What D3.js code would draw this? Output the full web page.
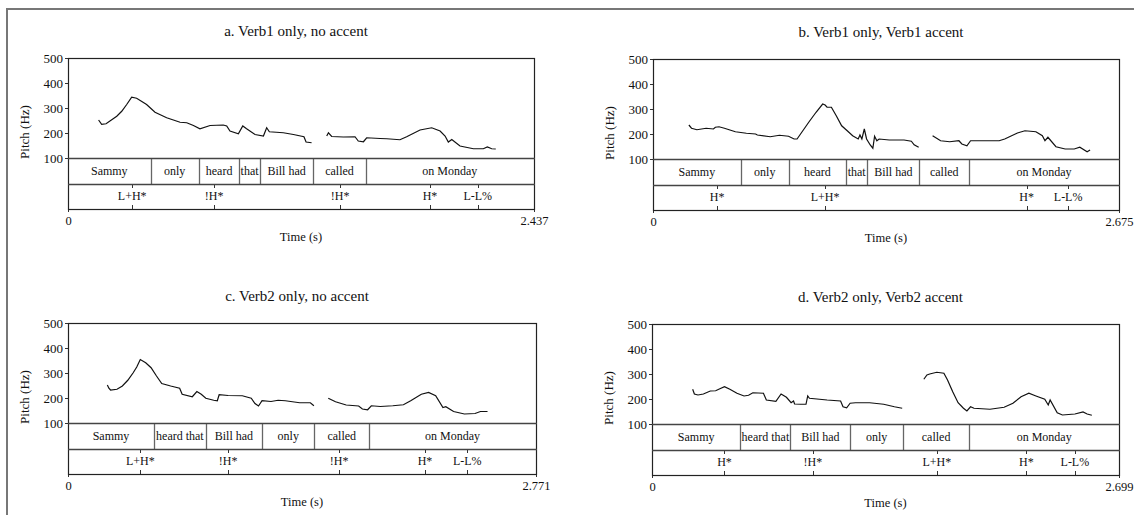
<!DOCTYPE html>
<html>
<head>
<meta charset="utf-8">
<script src="https://cdn.jsdelivr.net/npm/d3@7"></script>
<style>
  body { margin: 0; background: #fff; }
  text { font-family: "Liberation Serif", "Times New Roman", serif; fill: #111; }
</style>
</head>
<body>
<div id="fig"></div>
<script>
// pitch axis ticks
var yTicks = [100, 200, 300, 400, 500];

// a. Verb1 only, no accent
var aTitle = "a. Verb1 only, no accent";
var aDur = 2.437;
var aWords = ["Sammy", "only", "heard", "that", "Bill had", "called", "on Monday"];
var aWordEnds = [0.432, 0.684, 0.896, 1.003, 1.283, 1.557, 2.437];
var aTones = ["L+H*", "!H*", "!H*", "H*", "L-L%"];
var aToneTimes = [0.336, 0.764, 1.423, 1.893, 2.143];
var aPitch1 = [[0.160,252],[0.176,235],[0.199,237],[0.255,267],[0.281,287],[0.307,314],[0.333,343],[0.359,339],[0.411,314],[0.455,283],[0.516,261],[0.586,243],[0.621,241],[0.656,230],[0.690,217],[0.743,230],[0.812,232],[0.830,228],[0.847,208],[0.891,197],[0.914,228],[0.934,217],[0.978,194],[1.022,188],[1.039,221],[1.053,205],[1.126,201],[1.179,194],[1.234,185],[1.245,164],[1.274,161]];
var aPitch2 = [[1.353,188],[1.362,201],[1.379,186],[1.440,184],[1.501,185],[1.518,168],[1.545,165],[1.562,181],[1.632,178],[1.667,177],[1.736,173],[1.771,185],[1.841,212],[1.902,221],[1.946,208],[1.972,188],[1.989,164],[2.007,174],[2.050,148],[2.120,137],[2.172,137],[2.193,144],[2.216,137],[2.237,136]];

// b. Verb1 only, Verb1 accent
var bTitle = "b. Verb1 only, Verb1 accent";
var bDur = 2.675;
var bWords = ["Sammy", "only", "heard", "that", "Bill had", "called", "on Monday"];
var bWordEnds = [0.503, 0.780, 1.108, 1.230, 1.529, 1.815, 2.675];
var bTones = ["H*", "L+H*", "H*", "L-L%"];
var bToneTimes = [0.368, 0.988, 2.145, 2.383];
var bPitch1 = [[0.206,236],[0.221,223],[0.252,217],[0.305,223],[0.347,220],[0.358,227],[0.379,229],[0.410,223],[0.473,209],[0.536,203],[0.589,200],[0.599,196],[0.673,189],[0.726,195],[0.778,191],[0.810,180],[0.827,180],[0.894,247],[0.936,287],[0.974,320],[0.988,316],[0.999,307],[1.024,307],[1.052,273],[1.083,233],[1.115,213],[1.146,193],[1.178,180],[1.188,196],[1.199,180],[1.213,220],[1.226,180],[1.247,156],[1.262,143],[1.272,191],[1.285,173],[1.298,180],[1.356,176],[1.441,176],[1.483,171],[1.499,157],[1.525,147]];
var bPitch2 = [[1.605,193],[1.651,173],[1.703,169],[1.756,173],[1.773,160],[1.802,153],[1.823,173],[1.987,173],[2.019,180],[2.092,204],[2.135,213],[2.198,209],[2.235,193],[2.250,173],[2.267,187],[2.313,149],[2.366,140],[2.418,140],[2.450,147],[2.492,129],[2.509,136]];

// c. Verb2 only, no accent
var cTitle = "c. Verb2 only, no accent";
var cDur = 2.771;
var cWords = ["Sammy", "heard that", "Bill had", "only", "called", "on Monday"];
var cWordEnds = [0.509, 0.816, 1.149, 1.459, 1.783, 2.771];
var cTones = ["L+H*", "!H*", "!H*", "H*", "L-L%"];
var cToneTimes = [0.428, 0.948, 1.605, 2.114, 2.364];
var cPitch1 = [[0.233,252],[0.242,239],[0.252,232],[0.290,235],[0.322,248],[0.354,271],[0.386,301],[0.407,324],[0.428,354],[0.460,341],[0.492,321],[0.524,288],[0.555,258],[0.608,248],[0.661,239],[0.676,215],[0.736,205],[0.763,226],[0.789,215],[0.816,199],[0.863,191],[0.884,189],[0.895,213],[0.948,210],[1.032,209],[1.085,199],[1.107,178],[1.128,168],[1.149,189],[1.202,186],[1.244,191],[1.287,189],[1.329,185],[1.372,181],[1.435,181],[1.456,169]];
var cPitch2 = [[1.541,199],[1.584,185],[1.647,172],[1.721,168],[1.743,156],[1.774,153],[1.796,169],[1.849,166],[1.923,169],[1.986,173],[2.029,189],[2.092,215],[2.135,222],[2.177,209],[2.220,162],[2.237,165],[2.283,146],[2.347,136],[2.410,138],[2.442,146],[2.484,146]];

// d. Verb2 only, Verb2 accent
var dTitle = "d. Verb2 only, Verb2 accent";
var dDur = 2.699;
var dWords = ["Sammy", "heard that", "Bill had", "only", "called", "on Monday"];
var dWordEnds = [0.511, 0.800, 1.147, 1.450, 1.834, 2.699];
var dTones = ["H*", "!H*", "L+H*", "H*", "L-L%"];
var dToneTimes = [0.419, 0.930, 1.646, 2.164, 2.444];
var dPitch1 = [[0.235,239],[0.245,220],[0.266,216],[0.297,220],[0.337,232],[0.368,233],[0.389,240],[0.419,249],[0.450,239],[0.491,223],[0.532,212],[0.558,215],[0.583,225],[0.644,223],[0.661,196],[0.716,191],[0.746,220],[0.777,207],[0.804,185],[0.818,192],[0.824,180],[0.859,179],[0.890,179],[0.900,212],[0.910,203],[1.012,196],[1.090,192],[1.104,169],[1.125,165],[1.145,183],[1.176,185],[1.258,185],[1.339,179],[1.401,169],[1.446,163]];
var dPitch2 = [[1.571,279],[1.589,296],[1.605,300],[1.646,307],[1.687,303],[1.708,276],[1.738,229],[1.769,185],[1.800,163],[1.820,152],[1.841,169],[1.861,163],[1.953,159],[2.035,167],[2.086,183],[2.133,209],[2.178,223],[2.219,212],[2.270,199],[2.290,176],[2.301,196],[2.342,145],[2.372,136],[2.444,140],[2.491,148],[2.515,140],[2.542,135]];

var width = 1134, height = 515;
var pitchH = 100, wordH = 26, toneH = 25;

var svg = d3.select("#fig").append("svg")
    .attr("width", width)
    .attr("height", height);

// outer figure frame (only top and left edges are visible)
svg.append("path")
    .attr("d", "M7," + height + "V9H" + width)
    .attr("fill", "none")
    .attr("stroke", "#777")
    .attr("stroke-width", 2);

var panels = [
  {title: aTitle, dur: aDur, words: aWords, ends: aWordEnds, tones: aTones, toneT: aToneTimes, pitch: [aPitch1, aPitch2], left: 68, right: 534, top: 58},
  {title: bTitle, dur: bDur, words: bWords, ends: bWordEnds, tones: bTones, toneT: bToneTimes, pitch: [bPitch1, bPitch2], left: 653, right: 1119, top: 59},
  {title: cTitle, dur: cDur, words: cWords, ends: cWordEnds, tones: cTones, toneT: cToneTimes, pitch: [cPitch1, cPitch2], left: 68, right: 536, top: 323},
  {title: dTitle, dur: dDur, words: dWords, ends: dWordEnds, tones: dTones, toneT: dToneTimes, pitch: [dPitch1, dPitch2], left: 652, right: 1119, top: 324}
];

panels.forEach(draw_panel);

function draw_panel(p) {
  var x = d3.scaleLinear().domain([0, p.dur]).range([p.left, p.right]);
  var y = d3.scaleLinear().domain([100, 500]).range([p.top + pitchH, p.top]);
  var wTop = p.top + pitchH,
      tTop = wTop + wordH,
      bottom = tTop + toneH;

  var g = svg.append("g");

  // title
  g.append("text")
      .attr("x", (p.left + p.right) / 2 - 5)
      .attr("y", p.top - 27)
      .attr("dy", "0.35em")
      .attr("text-anchor", "middle")
      .style("font-size", "15px")
      .text(p.title);

  // y axis
  var yAxis = g.append("g")
      .attr("transform", "translate(" + p.left + ",0)")
      .call(d3.axisLeft(y).tickValues(yTicks).tickSize(3).tickPadding(2));
  yAxis.select(".domain").remove();
  yAxis.selectAll("line").attr("stroke", "#333");
  yAxis.selectAll("text")
      .style("font-family", '"Liberation Serif", serif')
      .style("font-size", "13px")
      .attr("fill", "#111");

  g.append("text")
      .attr("transform", "translate(" + (p.left - 44) + "," + (p.top + 74) + ") rotate(-90)")
      .attr("dy", "0.35em")
      .attr("text-anchor", "middle")
      .style("font-size", "13px")
      .text("Pitch (Hz)");

  // time axis: only the start and end
  var xAxis = g.append("g")
      .attr("transform", "translate(0," + bottom + ")")
      .call(d3.axisBottom(x).tickValues([0, p.dur]).tickSize(3).tickPadding(4)
        .tickFormat(function(d) { return d === 0 ? "0" : d3.format(".3f")(d); }));
  xAxis.select(".domain").remove();
  xAxis.selectAll("line").attr("stroke", "#333");
  xAxis.selectAll("text")
      .style("font-family", '"Liberation Serif", serif')
      .style("font-size", "12.5px")
      .attr("fill", "#111");

  g.append("text")
      .attr("x", (p.left + p.right) / 2)
      .attr("y", p.top + 179)
      .attr("dy", "0.35em")
      .attr("text-anchor", "middle")
      .style("font-size", "12.5px")
      .text("Time (s)");

  // word tier
  var starts = [0].concat(p.ends.slice(0, -1));
  g.selectAll(".wdiv")
      .data(p.ends.slice(0, -1))
      .enter()
      .append("line")
      .attr("class", "wdiv")
      .attr("x1", function(d) { return Math.round(x(d)) + 0.5; })
      .attr("x2", function(d) { return Math.round(x(d)) + 0.5; })
      .attr("y1", wTop)
      .attr("y2", tTop)
      .attr("stroke", "#666")
      .attr("stroke-width", 1.3);

  g.selectAll(".wlab")
      .data(p.words)
      .enter()
      .append("text")
      .attr("class", "wlab")
      .attr("x", function(d, i) { return (x(starts[i]) + x(p.ends[i])) / 2; })
      .attr("y", (wTop + tTop) / 2)
      .attr("dy", "0.35em")
      .attr("text-anchor", "middle")
      .style("font-size", "12px")
      .text(function(d) { return d; });

  // tone tier
  g.selectAll(".tick1")
      .data(p.toneT)
      .enter()
      .append("path")
      .attr("d", function(d) {
        var xx = Math.round(x(d)) + 0.5;
        return "M" + xx + "," + tTop + "v4M" + xx + "," + (bottom - 4) + "v4";
      })
      .attr("stroke", "#333")
      .attr("stroke-width", 1);

  g.selectAll(".tlab")
      .data(p.tones)
      .enter()
      .append("text")
      .attr("class", "tlab")
      .attr("x", function(d, i) { return x(p.toneT[i]); })
      .attr("y", (tTop + bottom) / 2 - 0.5)
      .attr("dy", "0.35em")
      .attr("text-anchor", "middle")
      .style("font-size", "12px")
      .text(function(d) { return d; });

  // frame and tier boundaries
  g.append("rect")
      .attr("x", p.left + 0.5)
      .attr("y", p.top + 0.5)
      .attr("width", p.right - p.left)
      .attr("height", bottom - p.top)
      .attr("fill", "none")
      .attr("stroke", "#222")
      .attr("stroke-width", 1.2);

  [wTop, tTop].forEach(function(yy) {
    g.append("line")
        .attr("x1", p.left).attr("x2", p.right + 1)
        .attr("y1", yy + 0.5).attr("y2", yy + 0.5)
        .attr("stroke", "#444")
        .attr("stroke-width", 1.5);
  });

  // pitch contour
  var line = d3.line()
      .x(function(d) { return x(d[0]); })
      .y(function(d) { return y(d[1]); });

  g.selectAll(".contour")
      .data(p.pitch)
      .enter()
      .append("path")
      .attr("class", "contour")
      .attr("d", line)
      .attr("fill", "none")
      .attr("stroke", "#111")
      .attr("stroke-width", 1.2);
}
</script>
</body>
</html>
